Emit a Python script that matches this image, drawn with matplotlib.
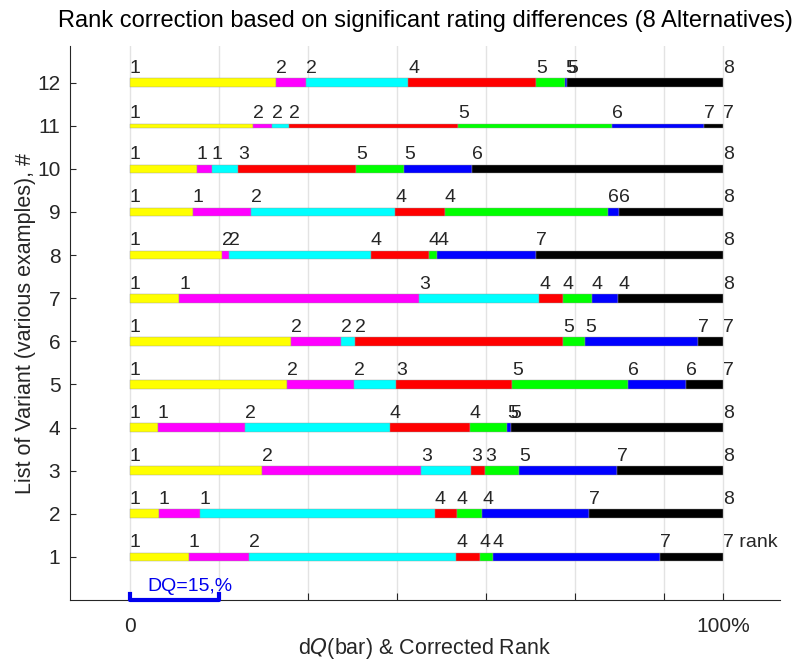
import matplotlib
matplotlib.use("Agg")
import matplotlib.pyplot as plt

plt.rcParams['font.family'] = ['Liberation Sans', 'DejaVu Sans']

# dQ position (%) of alternatives 1..8 for each variant (row 1 at bottom)
positions = [
    [0, 9.9, 20.1, 55.0, 59.0, 61.2, 89.4, 100],
    [0, 4.9, 11.8, 51.4, 55.1, 59.4, 77.4, 100],
    [0, 22.3, 49.1, 57.5, 59.9, 65.6, 82.1, 100],
    [0, 4.7, 19.4, 43.8, 57.3, 63.6, 64.2, 100],
    [0, 26.5, 37.8, 44.9, 64.4, 84.0, 93.8, 100],
    [0, 27.2, 35.6, 37.9, 73.0, 76.7, 95.8, 100],
    [0, 8.3, 48.7, 69.0, 73.0, 77.9, 82.3, 100],
    [0, 15.5, 16.7, 40.6, 50.4, 51.8, 68.5, 100],
    [0, 10.6, 20.4, 44.7, 53.1, 80.6, 82.5, 100],
    [0, 11.3, 13.8, 18.2, 38.1, 46.2, 57.7, 100],
    [0, 20.7, 23.9, 26.8, 55.3, 81.3, 96.8, 100],
    [0, 24.6, 29.7, 46.9, 68.5, 73.4, 73.7, 100],
]

# corrected ranks shown above each alternative
ranks = [
    ['1', '1', '2', '4', '4', '4', '7', '7 rank'],
    ['1', '1', '1', '4', '4', '4', '7', '8'],
    ['1', '2', '3', '3', '3', '5', '7', '8'],
    ['1', '1', '2', '4', '4', '5', '5', '8'],
    ['1', '2', '2', '3', '5', '6', '6', '7'],
    ['1', '2', '2', '2', '5', '5', '7', '7'],
    ['1', '1', '3', '4', '4', '4', '4', '8'],
    ['1', '2', '2', '4', '4', '4', '7', '8'],
    ['1', '1', '2', '4', '4', '6', '6', '8'],
    ['1', '1', '1', '3', '5', '5', '6', '8'],
    ['1', '2', '2', '2', '5', '6', '7', '7'],
    ['1', '2', '2', '4', '5', '5', '5', '8'],
]

variants = list(range(1, 13))
seg_colors = ['#ffff00', '#ff00ff', '#00ffff', '#ff0000', '#00ff00', '#0000ff', '#000000']
dq = 15

fig = plt.figure(figsize=(8.01, 6.63), dpi=100)
ax = fig.add_axes([0.0874, 0.095, 0.8864, 0.8356])

for v, pos, rk in zip(variants, positions, ranks):
    h = 0.1 if v == 11 else 0.2
    for i in range(len(pos) - 1):
        ax.barh(v, pos[i + 1] - pos[i], left=pos[i], height=h,
                color=seg_colors[i], edgecolor='#999999', linewidth=0.3, zorder=2)
    for p, r in zip(pos, rk):
        ax.annotate(r, (p, v + h / 2), xytext=(0, 1), textcoords='offset points',
                    ha='left', va='bottom', fontsize=14, color='#262626', zorder=3)

# DQ bracket
ax.plot([0, 0, dq, dq], [0.14, 0, 0, 0.14], color='#0000ee', lw=3,
        clip_on=False, zorder=4)
ax.text(3, 0.22, 'DQ=15,%', color='#0000ee', fontsize=14)

ax.set_xlim(-10.1, 109.6)
ax.set_ylim(0, 12.85)
ax.set_xticks([0, 15, 30, 45, 60, 75, 90, 100])
ax.set_xticklabels(['0', '', '', '', '', '', '', '100%'])
ax.set_yticks(variants)
ax.tick_params(axis='x', direction='in', length=5, pad=12, labelsize=15,
               colors='#262626')
ax.tick_params(axis='y', direction='in', length=4, pad=7, labelsize=15,
               colors='#262626')
ax.grid(axis='x', color='#e3e3e3', lw=1, zorder=0)
ax.set_axisbelow(True)
for s in ['top', 'right']:
    ax.spines[s].set_visible(False)
for s in ['left', 'bottom']:
    ax.spines[s].set_color('#262626')

ax.set_xlabel('d$\\it{Q}$(bar) & Corrected Rank', fontsize=15.5, color='#262626',
              labelpad=0)
ax.set_ylabel('List of Variant (various examples), #', fontsize=15.5, color='#262626',
              labelpad=1)
ax.set_title('Rank correction based on significant rating differences (8 Alternatives)',
             fontsize=17, color='black', pad=14)

fig.savefig('out.png', dpi=100)
